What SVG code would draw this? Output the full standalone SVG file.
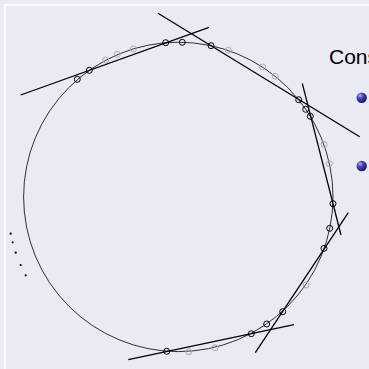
<svg xmlns="http://www.w3.org/2000/svg" width="369" height="369" viewBox="0 0 369 369">
<defs>
<style>
.bg{fill:#eaeaf5}
.frame{stroke:#ffffff;stroke-width:1.5;fill:none}
.curve{fill:none;stroke:#000;stroke-width:0.8}
.sec{stroke:#000;stroke-width:1.3;fill:none}
.pt{fill:none;stroke:#000;stroke-width:1}
.gp{fill:none;stroke:#aaaaaa;stroke-width:1}
.dot{fill:#000}
.txt{font-family:"Liberation Sans",Arial,sans-serif;font-size:21px;fill:#000}
</style>
<radialGradient id="ball" cx="0.35" cy="0.3" r="0.75">
<stop offset="0" stop-color="#b8b8f0"/>
<stop offset="0.35" stop-color="#4a4ab8"/>
<stop offset="1" stop-color="#14145a"/>
</radialGradient>
</defs>
<rect class="bg" x="0" y="0" width="369" height="369"/>
<path class="frame" d="M5,369 V5 H369"/>
<g id="curve"><circle class="curve" cx="178.3" cy="196.9" r="154.7"/></g>
<g id="connectors">
<line class="sec" x1="20.7" y1="95" x2="209" y2="27.3"/>
<line class="sec" x1="158" y1="13.3" x2="359.7" y2="136.7"/>
<line class="sec" x1="302.3" y1="83.3" x2="341" y2="235"/>
<line class="sec" x1="348.3" y1="212.7" x2="255.3" y2="352.7"/>
<line class="sec" x1="294" y1="324.7" x2="128.3" y2="359.7"/>
</g>
<g id="gray-points">
<circle class="gp" cx="105.7" cy="60" r="3"/>
<circle class="gp" cx="117.3" cy="54.3" r="3"/>
<circle class="gp" cx="133.3" cy="49" r="3"/>
<circle class="gp" cx="228.3" cy="50.3" r="3"/>
<circle class="gp" cx="262.7" cy="67" r="3"/>
<circle class="gp" cx="275.3" cy="76.3" r="3"/>
<circle class="gp" cx="324" cy="144.3" r="3"/>
<circle class="gp" cx="329.3" cy="163.7" r="3"/>
<circle class="gp" cx="306" cy="285" r="3"/>
<circle class="gp" cx="188.7" cy="351.7" r="3"/>
<circle class="gp" cx="215" cy="347.7" r="3"/>
</g>
<g id="points">
<circle class="pt" cx="77.3" cy="79.3" r="3"/>
<circle class="pt" cx="89.3" cy="70.3" r="3"/>
<circle class="pt" cx="165.7" cy="42.7" r="3"/>
<circle class="pt" cx="182.3" cy="42.3" r="3"/>
<circle class="pt" cx="211" cy="45.7" r="3"/>
<circle class="pt" cx="298.7" cy="99.7" r="3"/>
<circle class="pt" cx="305.7" cy="109.3" r="3"/>
<circle class="pt" cx="310.3" cy="116.3" r="3"/>
<circle class="pt" cx="333" cy="203.7" r="3"/>
<circle class="pt" cx="329.7" cy="228.3" r="3"/>
<circle class="pt" cx="324" cy="248.3" r="3"/>
<circle class="pt" cx="282.7" cy="311.7" r="3"/>
<circle class="pt" cx="266.7" cy="324" r="3"/>
<circle class="pt" cx="251.3" cy="333.7" r="3"/>
<circle class="pt" cx="166.7" cy="351.3" r="3"/>
</g>
<g id="dots">
<circle class="dot" cx="10.7" cy="233.7" r="1.1"/>
<circle class="dot" cx="12.7" cy="242.3" r="1.1"/>
<circle class="dot" cx="15.7" cy="252.7" r="1.1"/>
<circle class="dot" cx="20.7" cy="265" r="1.1"/>
<circle class="dot" cx="25.7" cy="275.3" r="1.1"/>
</g>
<g id="text">
<text class="txt" x="329" y="63.5">Cons</text>
<circle cx="361.7" cy="97.7" r="5.2" fill="url(#ball)"/>
<circle cx="361.7" cy="166" r="5.2" fill="url(#ball)"/>
</g>
</svg>
